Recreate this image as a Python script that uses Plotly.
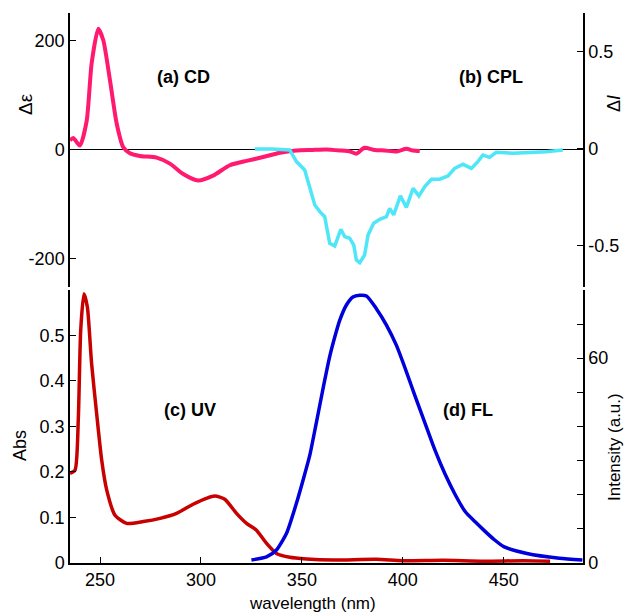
import plotly.graph_objects as go

# ---- data ----
cd_wl = [235.1, 236.7, 240.0, 243.4, 245.8, 249.1, 251.6, 254.9, 258.2, 261.5, 264.8, 269.7,
         278.0, 284.6, 291.2, 298.6, 306.0, 314.3, 322.6, 330.8, 339.1, 347.3, 355.0, 362.0,
         369.0, 374.0, 377.0, 381.0, 386.0, 391.0, 397.0, 401.8, 405.0, 408.4]
cd_val = [16.5, 21, 7, 53, 157, 221, 200, 127, 48, 4, -7, -12,
          -15, -26, -45, -57, -48, -29, -21, -14, -6, -2, -1, 0,
          -2, -4, -8, 3, -1, -2, -4, 1, -2, -3]

cpl_wl = [326.7, 335.0, 344.0, 347.3, 351.4, 353.9, 356.4, 358.9, 361.3, 363.8, 366.3, 369.3,
          371.2, 373.7, 375.7, 377.0, 378.7, 381.1, 382.8, 385.6, 388.6, 391.9, 393.5, 395.5,
          398.8, 401.8, 405.1, 408.0, 410.9, 414.2, 418.3, 422.4, 425.7, 429.8, 434.0, 437.2,
          439.7, 443.0, 446.3, 454.6, 462.8, 471.0, 479.3]
cpl_val = [0.0, 0.0, -0.005, -0.065, -0.108, -0.194, -0.289, -0.323, -0.349, -0.486, -0.50, -0.414,
           -0.452, -0.46, -0.495, -0.572, -0.586, -0.546, -0.443, -0.383, -0.363, -0.349, -0.306, -0.34,
           -0.242, -0.301, -0.203, -0.242, -0.194, -0.156, -0.156, -0.139, -0.10, -0.079, -0.10, -0.065,
           -0.031, -0.043, -0.017, -0.022, -0.02, -0.014, -0.005]

uv_wl = [235.1, 237.6, 239.2, 240.4, 242.0, 243.7, 245.8, 248.3, 250.8, 253.3, 257.4, 263.2,
         271.4, 279.7, 287.9, 296.1, 302.7, 306.9, 311.8, 317.6, 322.6, 327.5, 332.5, 337.4,
         344.0, 352.3, 365.5, 386.9, 400.0, 420.0, 440.0, 460.0, 473.0]
uv_val = [0.197, 0.204, 0.314, 0.511, 0.591, 0.562, 0.438, 0.328, 0.226, 0.16, 0.105, 0.087,
          0.091, 0.098, 0.109, 0.129, 0.142, 0.147, 0.14, 0.109, 0.087, 0.072, 0.043, 0.021,
          0.0125, 0.009, 0.0066, 0.008, 0.005, 0.006, 0.004, 0.005, 0.004]

fl_wl = [325.0, 332.5, 337.4, 342.4, 347.3, 351.4, 353.9, 357.3, 360.8, 363.8, 366.3, 368.7,
         372.0, 375.3, 378.7, 382.0, 386.9, 391.9, 396.8, 401.8, 406.0, 411.0, 416.0, 421.0,
         426.0, 431.0, 436.0, 440.0, 445.0, 450.0, 461.5, 477.6, 489.0]
fl_val = [0.9, 1.8, 3.8, 8.7, 17.5, 26.0, 31.5, 41.5, 52.0, 60.5, 66.2, 71.0,
          75.5, 77.9, 78.4, 78.2, 74.5, 69.7, 63.8, 56, 49, 41, 33, 26,
          20, 15, 12, 9.7, 7, 4.8, 2.8, 1.4, 0.9]

x_ticks = [250, 300, 350, 400, 450]
cd_ticks = [-200, 0, 200]
cd_text = ["-200", "0", "200"]
cpl_ticks = [-0.5, 0, 0.5]
cpl_text = ["-0.5", "0", "0.5"]
abs_ticks = [0, 0.1, 0.2, 0.3, 0.4, 0.5, 0.6]
abs_text = ["0", "0.1", "0.2", "0.3", "0.4", "0.5", ""]
int_ticks = [0, 10, 20, 30, 40, 50, 60, 70, 80]
int_text = ["0", "", "", "", "", "", "60", "", ""]

FONT = "Liberation Sans, Arial, Helvetica, sans-serif"

fig = go.Figure()
fig.add_trace(go.Scatter(x=cd_wl, y=cd_val, xaxis="x", yaxis="y", mode="lines",
                         line=dict(color="#FF1A70", width=4, shape="spline", smoothing=0.6)))
fig.add_trace(go.Scatter(x=cpl_wl, y=cpl_val, xaxis="x", yaxis="y2", mode="lines",
                         line=dict(color="#4FE6F7", width=3.5)))
fig.add_trace(go.Scatter(x=uv_wl, y=uv_val, xaxis="x", yaxis="y3", mode="lines",
                         line=dict(color="#C80000", width=3.5, shape="spline", smoothing=0.6)))
fig.add_trace(go.Scatter(x=fl_wl, y=fl_val, xaxis="x", yaxis="y4", mode="lines",
                         line=dict(color="#0000DD", width=3.5, shape="spline", smoothing=0.6)))

tickfont = dict(family=FONT, size=18, color="black")
common_y = dict(ticks="inside", ticklen=6, tickcolor="black", showline=True,
                linecolor="black", linewidth=1.5, showgrid=False, tickfont=tickfont,
                automargin=False)

fig.update_layout(
    width=627, height=615,
    margin=dict(l=70, r=44, t=13, b=52),
    plot_bgcolor="white", paper_bgcolor="white",
    showlegend=False,
    xaxis=dict(domain=[0, 1], anchor="y3", range=[235.1, 489.3],
               tickvals=x_ticks, ticks="inside", ticklen=6, tickcolor="black",
               showline=True, linecolor="black", linewidth=1.5, showgrid=False,
               zeroline=False, tickfont=tickfont, automargin=False),
    yaxis=dict(domain=[0.502, 1], anchor="x", range=[-252, 250], tickvals=cd_ticks,
               ticktext=cd_text, zeroline=True, zerolinecolor="black",
               zerolinewidth=1.2, **common_y),
    yaxis2=dict(domain=[0.502, 1], anchor="x", overlaying="y", side="right",
                range=[-0.711, 0.701], tickvals=cpl_ticks, ticktext=cpl_text,
                zeroline=False, **common_y),
    yaxis3=dict(domain=[0, 0.496], anchor="x", range=[0, 0.599], tickvals=abs_ticks,
                ticktext=abs_text, zeroline=False, **common_y),
    yaxis4=dict(domain=[0, 0.496], anchor="x", overlaying="y3", side="right",
                range=[0, 79.9], tickvals=int_ticks, ticktext=int_text,
                zeroline=False, **common_y),
)

# page pixel coords -> paper coords of the plot area
def ann_px(text, px, py, bold=False, angle=0, size=17):
    L, R, T, B = 70, 583, 13, 563
    fig.add_annotation(text=(f"<b>{text}</b>" if bold else text),
                       x=(px - L) / (R - L), y=(B - py) / (B - T),
                       xref="paper", yref="paper", xanchor="center", yanchor="middle",
                       showarrow=False, textangle=angle,
                       font=dict(family=FONT, size=size, color="black"))

ann_px("(a) CD", 183, 77, bold=True, size=18)
ann_px("(b) CPL", 491, 77, bold=True, size=18)
ann_px("(c) UV", 190, 410, bold=True, size=18)
ann_px("(d) FL", 468, 410, bold=True, size=18)
ann_px("Δε", 26, 104, angle=-90, size=19)
ann_px("Δ<i>I</i>", 614, 104, angle=-90, size=18)
ann_px("Abs", 20, 446, angle=-90, size=18)
ann_px("Intensity (a.u.)", 614, 447, angle=-90, size=17)
ann_px("wavelength (nm)", 312, 603, size=17)

fig.write_html("out.html", config={"displayModeBar": False},
               post_script="document.body.style.margin='0';document.body.style.overflow='hidden';")
